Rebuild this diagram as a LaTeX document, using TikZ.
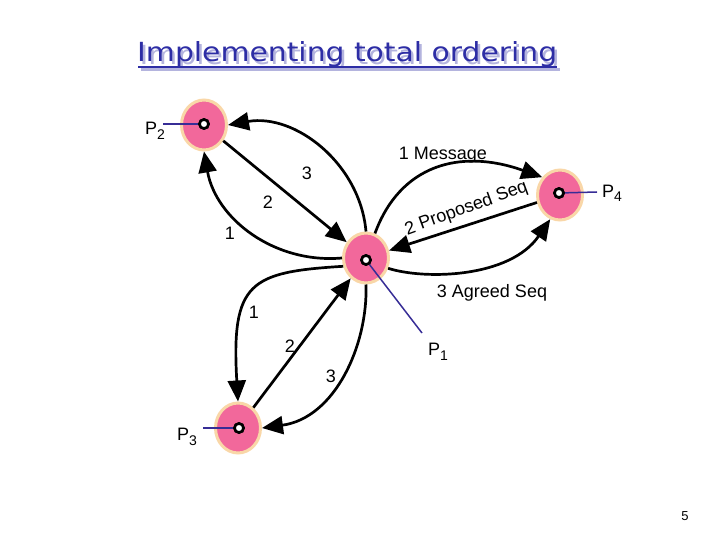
\documentclass[tikz,border=0pt]{standalone}
\usepackage{fontspec}
\setmainfont{Liberation Sans}
\newfontfamily\titlefont{DejaVu Sans}
\usetikzlibrary{arrows.meta,shapes.geometric}
\definecolor{nodepink}{RGB}{242,104,155}
\definecolor{nodeedge}{RGB}{249,215,168}
\definecolor{plabel}{RGB}{55,45,150}
\definecolor{titleblue}{RGB}{45,45,165}
\definecolor{titleshadow}{RGB}{180,180,222}
\tikzset{
  proc/.style={ellipse, fill=nodepink, draw=nodeedge, line width=3pt, minimum width=45pt, minimum height=50pt, inner sep=0pt},
  hole/.style={circle, fill=white, draw=black, line width=2.6pt, minimum size=9pt, inner sep=0pt},
  msg/.style={line width=2.7pt, -{Triangle[length=21pt,width=18pt]}},
  lbl/.style={font=\fontsize{18}{18}\selectfont, anchor=base, inner sep=0pt},
  plbl/.style={font=\fontsize{18}{18}\selectfont, anchor=base west, inner sep=0pt},
  pline/.style={draw=plabel, line width=1.5pt},
}
\newcommand{\Psub}[1]{P\raisebox{-5pt}{\fontsize{14}{14}\selectfont #1}}
\begin{document}
\begin{tikzpicture}[x=1pt,y=1pt]
\useasboundingbox (0,0) rectangle (720,-540);
% title
\node[anchor=base west, inner sep=0pt, text=titleshadow] (tsh) at (139.5,-64.5) {\resizebox{420pt}{20pt}{\titlefont Implementing total ordering}};
\coordinate (us1) at (140.5,-69.5);
\coordinate (us2) at (559.5,-69.5);
\draw[titleshadow, line width=2.2pt] (us1) -- (us2);
\node[anchor=base west, inner sep=0pt, text=titleblue] (title) at (137,-62) {\resizebox{420pt}{20pt}{\titlefont Implementing total ordering}};
\coordinate (u1) at (138,-67);
\coordinate (u2) at (557,-67);
\draw[titleblue, line width=2.2pt] (u1) -- (u2);

% processes
\node[proc] (P2) at (204,-125) {};
\node[proc] (P1) at (366,-258) {};
\node[proc] (P4) at (560,-195) {};
\node[proc] (P3) at (238,-428) {};

% label lines
\coordinate (l2) at (163,-124);
\coordinate (l4) at (597,-192);
\coordinate (l3) at (203,-428);
\coordinate (l1) at (422,-333);
\node[hole] (h2) at (204,-124) {};
\node[hole] (h1) at (366,-260) {};
\node[hole] (h4) at (559,-193) {};
\node[hole] (h3) at (239,-428) {};
\draw[pline] (l2) -- (h2);
\draw[pline] (l4) -- (h4);
\draw[pline] (l3) -- (h3);
\draw[pline] (l1) -- (h1);
\node[hole] at (h2) {};
\node[hole] at (h1) {};
\node[hole] at (h4) {};
\node[hole] at (h3) {};

% P2 group
\draw[msg] (P1.west) to[out=185,in=-80] (P2.south);
\draw[msg] (P2) -- (P1);
\draw[msg] (P1.north) to[out=95,in=10] (P2.east);

% P4 group
\draw[msg] (P1.70) .. controls (400,-165) and (460,-148) .. (P4.135);
\draw[msg] (P4) -- (P1);
\draw[msg] (P1.-25) .. controls (425,-280) and (510,-278) .. (P4.-112);

% P3 group
\draw[msg] (P1.200) .. controls (250,-272) and (231,-282) .. (P3.north);
\draw[msg] (P3) -- (P1);
\draw[msg] (P1.south) .. controls (368,-345) and (335,-418) .. (P3.east);

% labels
\node[lbl] (tm) at (443,-160) {1 Message};
\node[lbl] (t3a) at (307,-180) {3};
\node[lbl] (t2a) at (268,-208) {2};
\node[lbl] (t1a) at (230,-240) {1};
\node[lbl, rotate=20] (tp) at (468,-213) {2 Proposed Seq};
\node[lbl] (tag) at (492,-297) {3 Agreed Seq};
\node[lbl] (t1b) at (254,-318) {1};
\node[lbl] (t2b) at (290,-352) {2};
\node[lbl] (t3b) at (331,-382) {3};
\node[plbl] (n2) at (145,-135) {\Psub{2}};
\node[plbl] (n4) at (602,-197) {\Psub{4}};
\node[plbl] (n3) at (177,-440) {\Psub{3}};
\node[plbl] (n1) at (428,-355) {\Psub{1}};
\node[font=\fontsize{13}{13}\selectfont, inner sep=0pt] (pg) at (685,-516) {5};
\end{tikzpicture}
\end{document}
